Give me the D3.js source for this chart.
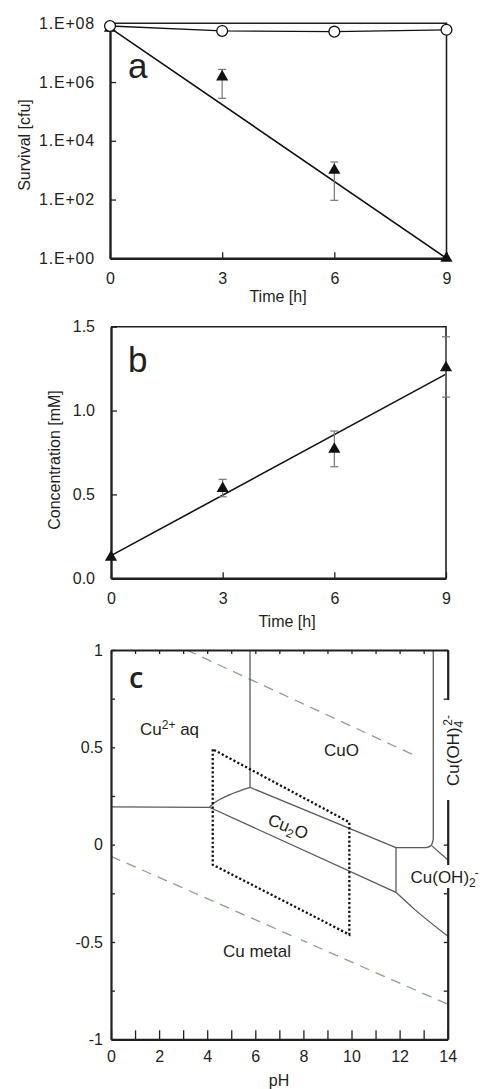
<!DOCTYPE html>
<html>
<head>
<meta charset="utf-8">
<script src="https://cdn.jsdelivr.net/npm/d3@7"></script>
<style>
  body { margin: 0; background: #fff; }
  text { font-family: "Liberation Sans", Arial, sans-serif; font-size: 16px; fill: #231f20; }
</style>
</head>
<body>
<svg id="chart" width="482" height="1089"></svg>
<script>
// ---- panel a: survival ----
const times = [0, 3, 6, 9];
const fitTimes = [0, 9];
const survivalControl = [8.1e7, 5.5e7, 5.2e7, 6.0e7];
const survivalCopper = [6.8e7, 1.5e6, 1.0e3, 1];
const survivalErrHigh = [null, 2.7e6, 1.9e3, null];
const survivalErrLow = [null, 2.8e5, 94, null];
const survivalFit = [7.0e7, 1];
const survivalTicks = [1, 1e2, 1e4, 1e6, 1e8];

// ---- panel b: copper concentration ----
const copperConc = [0.125, 0.536, 0.77, 1.255];
const concErrHigh = [null, 0.59, 0.878, 1.44];
const concErrLow = [null, 0.486, 0.665, 1.08];
const concFit = [0.135, 1.217];
const concTicks = [0, 0.5, 1.0, 1.5];

// ---- panel c: Pourbaix diagram (pH, E) ----
const phTicks = d3.range(0, 15, 1);
const potentialTicks = [-1, -0.75, -0.5, -0.25, 0, 0.25, 0.5, 0.75, 1];
const boundaries = [
  [[0, 0.194], [4.09, 0.192]],
  [[4.09, 0.192], [4.3, 0.215], [4.95, 0.257], [5.78, 0.294]],
  [[5.78, 0.294], [5.78, 1.0]],
  [[5.78, 0.294], [11.85, -0.015]],
  [[11.85, -0.015], [13.1, -0.015], [13.3, -0.005], [13.4, 0.03], [13.4, 1.0]],
  [[13.33, -0.005], [14, -0.077]],
  [[11.85, -0.015], [11.85, -0.245]],
  [[4.09, 0.192], [11.85, -0.245]],
  [[11.85, -0.245], [12.6, -0.33], [14, -0.47]]
];
const waterLines = [
  [[3.15, 1.0], [12.7, 0.454]],
  [[0, -0.06], [14, -0.82]]
];
const studyWindow = [[4.23, 0.49], [4.23, -0.103], [9.91, -0.462], [9.91, 0.115]];

const ink = '#231f20';
const svg = d3.select('#chart');

function styleAxis(g, domainWidth) {
  g.attr('font-size', null).attr('font-family', null);
  g.select('.domain').attr('stroke', ink).attr('stroke-width', domainWidth);
  g.selectAll('.tick line').attr('stroke', ink).attr('stroke-width', 1.3);
}

function drawTriangles(g, xs, ys, x, y) {
  g.selectAll(null)
    .data(xs)
    .enter()
    .append('path')
    .attr('d', d3.symbol(d3.symbolTriangle, 64))
    .attr('transform', (d, i) => 'translate(' + x(d) + ',' + y(ys[i]) + ')')
    .attr('fill', '#111');
}

function drawErrorBars(g, xs, lo, hi, x, y) {
  const idx = xs.map((d, i) => i).filter(i => hi[i] != null);
  const bars = g.selectAll(null).data(idx).enter().append('g')
    .attr('stroke', '#777').attr('stroke-width', 1.2);
  bars.append('line')
    .attr('x1', i => x(xs[i])).attr('x2', i => x(xs[i]))
    .attr('y1', i => y(lo[i])).attr('y2', i => y(hi[i]));
  bars.append('line')
    .attr('x1', i => x(xs[i]) - 4).attr('x2', i => x(xs[i]) + 4)
    .attr('y1', i => y(hi[i])).attr('y2', i => y(hi[i]));
  bars.append('line')
    .attr('x1', i => x(xs[i]) - 4).attr('x2', i => x(xs[i]) + 4)
    .attr('y1', i => y(lo[i])).attr('y2', i => y(lo[i]));
}

function drawFrame(x, y, width) {
  const [x0, x1] = x.range();
  const [y0, y1] = y.range();
  svg.append('path')
    .attr('d', 'M' + x0 + ',' + y1 + 'H' + x1 + 'V' + y0)
    .attr('fill', 'none').attr('stroke', ink).attr('stroke-width', width);
}

// ===== panel a =====
const xA = d3.scaleLinear().domain([0, 9]).range([110, 446.5]);
const yA = d3.scaleLog().domain([1, 1e8]).range([258.3, 23.3]);

drawFrame(xA, yA, 1.6);

svg.append('g')
  .attr('transform', 'translate(' + xA(0) + ',0)')
  .call(d3.axisLeft(yA).tickValues(survivalTicks).tickSize(-6).tickSizeOuter(0).tickPadding(15)
    .tickFormat(d => '1.E+' + String(Math.round(Math.log10(d))).padStart(2, '0')))
  .call(g => styleAxis(g, 2.4))
  .selectAll('text').style('letter-spacing', '0.8px');

svg.append('g')
  .attr('transform', 'translate(0,' + yA(1) + ')')
  .call(d3.axisBottom(xA).tickValues(times).tickSize(-6).tickSizeOuter(0).tickPadding(14))
  .call(g => styleAxis(g, 2.4));

const lineA = d3.line().x((d, i) => xA(times[i])).y(d => yA(d));
svg.append('path')
  .attr('d', d3.line().x((d, i) => xA(fitTimes[i])).y(d => yA(d))(survivalFit))
  .attr('fill', 'none').attr('stroke', '#111').attr('stroke-width', 1.6);
svg.append('path')
  .attr('d', lineA(survivalControl))
  .attr('fill', 'none').attr('stroke', '#111').attr('stroke-width', 1.3);

const gA = svg.append('g');
drawErrorBars(gA, times, survivalErrLow, survivalErrHigh, xA, yA);
drawTriangles(gA, times, survivalCopper, xA, yA);
gA.selectAll(null)
  .data(times)
  .enter()
  .append('circle')
  .attr('cx', d => xA(d))
  .attr('cy', (d, i) => yA(survivalControl[i]))
  .attr('r', 5.4)
  .attr('fill', '#fff').attr('stroke', '#111').attr('stroke-width', 1.3);

svg.append('text').attr('x', 128).attr('y', 78).style('font-size', '35px').text('a');
svg.append('text').attr('x', 278).attr('y', 302).attr('text-anchor', 'middle').text('Time [h]');
svg.append('text')
  .attr('transform', 'translate(30,145) rotate(-90)')
  .attr('text-anchor', 'middle').text('Survival [cfu]');

// ===== panel b =====
const xB = d3.scaleLinear().domain([0, 9]).range([111, 446]);
const yB = d3.scaleLinear().domain([0, 1.5]).range([578.3, 326.7]);

drawFrame(xB, yB, 1.6);

svg.append('g')
  .attr('transform', 'translate(' + xB(0) + ',0)')
  .call(d3.axisLeft(yB).tickValues(concTicks).tickSize(-6).tickSizeOuter(0).tickPadding(16)
    .tickFormat(d3.format('.1f')))
  .call(g => styleAxis(g, 2.4));

svg.append('g')
  .attr('transform', 'translate(0,' + yB(0) + ')')
  .call(d3.axisBottom(xB).tickValues(times).tickSize(-6).tickSizeOuter(0).tickPadding(14))
  .call(g => styleAxis(g, 2.4));

svg.append('path')
  .attr('d', d3.line().x((d, i) => xB(fitTimes[i])).y(d => yB(d))(concFit))
  .attr('fill', 'none').attr('stroke', '#111').attr('stroke-width', 1.6);

const gB = svg.append('g');
drawErrorBars(gB, times, concErrLow, concErrHigh, xB, yB);
drawTriangles(gB, times, copperConc, xB, yB);

svg.append('text').attr('x', 128).attr('y', 371.5).style('font-size', '35px').text('b');
svg.append('text').attr('x', 287).attr('y', 627).attr('text-anchor', 'middle').text('Time [h]');
svg.append('text')
  .attr('transform', 'translate(60,460) rotate(-90)')
  .attr('text-anchor', 'middle').text('Concentration [mM]');

// ===== panel c =====
const xC = d3.scaleLinear().domain([0, 14]).range([111, 447.7]);
const yC = d3.scaleLinear().domain([-1, 1]).range([1039.3, 650]);
const lineC = d3.line().x(d => xC(d[0])).y(d => yC(d[1]));

svg.append('g').selectAll(null)
  .data(waterLines)
  .enter()
  .append('path')
  .attr('d', lineC)
  .attr('fill', 'none').attr('stroke', '#86a486').attr('stroke-width', 1.3)
  .attr('stroke-dasharray', '10,7');

svg.append('g').selectAll(null)
  .data(boundaries)
  .enter()
  .append('path')
  .attr('d', d3.line().x(d => xC(d[0])).y(d => yC(d[1])).curve(d3.curveMonotoneX))
  .attr('fill', 'none').attr('stroke', '#5a5a5a').attr('stroke-width', 1.3);

svg.append('path')
  .attr('d', lineC(studyWindow) + 'Z')
  .attr('fill', 'none').attr('stroke', '#111').attr('stroke-width', 2.3)
  .attr('stroke-dasharray', '2.2,2.2');

// frame and axes
svg.append('g')
  .attr('transform', 'translate(' + xC(0) + ',0)')
  .call(d3.axisLeft(yC).tickValues(potentialTicks).tickSize(-4).tickSizeOuter(0).tickPadding(8)
    .tickFormat(d => (Math.abs(d * 2 - Math.round(d * 2)) < 1e-9) ? String(d) : ''))
  .call(g => styleAxis(g, 2.2));
svg.append('g')
  .attr('transform', 'translate(' + xC(14) + ',0)')
  .call(d3.axisRight(yC).tickValues(potentialTicks).tickSize(-4).tickSizeOuter(0).tickFormat(''))
  .call(g => styleAxis(g, 2.2));
svg.append('g')
  .attr('transform', 'translate(0,' + yC(1) + ')')
  .call(d3.axisTop(xC).tickValues(phTicks).tickSize(-4).tickSizeOuter(0).tickFormat(''))
  .call(g => styleAxis(g, 2.2));
svg.append('g')
  .attr('transform', 'translate(0,' + yC(-1) + ')')
  .call(d3.axisBottom(xC).tickValues(phTicks).tickSize(-9).tickSizeOuter(0).tickPadding(11)
    .tickFormat(d => d % 2 === 0 ? String(d) : ''))
  .call(g => styleAxis(g, 2.2));

// white label backgrounds, as in the original figure
svg.append('rect').attr('x', 438).attr('y', 700).attr('width', 44).attr('height', 100).attr('fill', '#fff');
svg.append('rect').attr('x', 407).attr('y', 865).attr('width', 75).attr('height', 23).attr('fill', '#fff');
svg.append('rect').attr('x', 217).attr('y', 938).attr('width', 84).attr('height', 24).attr('fill', '#fff');

// region labels
function chem(sel, parts) {
  parts.forEach(p => {
    const t = sel.append('tspan').text(p[0]);
    if (p[1] === 'sub') t.attr('dy', 4).style('font-size', '12px');
    if (p[1] === 'sup') t.attr('dy', p[2] || -7).style('font-size', '12px');
    if (p[1] === 'base') t.attr('dy', p[2] || 0);
    if (p[3]) t.attr('dx', p[3]);
  });
  return sel;
}

svg.append('text').attr('x', 129).attr('y', 688)
  .style('font-family', '"Open Sans", "Noto Sans", sans-serif').style('font-size', '29px')
  .style('font-weight', '600').text('c');

chem(svg.append('text').attr('x', 140).attr('y', 735).style('font-size', '17px'),
  [['Cu', 'base'], ['2+', 'sup', -6], [' aq', 'base', 6]]);

svg.append('text').attr('x', 341.5).attr('y', 756).attr('text-anchor', 'middle')
  .style('font-size', '17px').text('CuO');

chem(svg.append('text').attr('transform', 'translate(286,832) rotate(22)')
  .attr('text-anchor', 'middle').style('font-size', '17px'),
  [['Cu', 'base'], ['2', 'sub'], ['O', 'base', -4]]);

svg.append('text').attr('x', 257).attr('y', 957).attr('text-anchor', 'middle')
  .style('font-size', '17px').text('Cu metal');

chem(svg.append('text').attr('x', 410.5).attr('y', 883).style('font-size', '17px'),
  [['Cu(OH)', 'base'], ['2', 'sub'], ['-', 'sup', -10, -1]]);

chem(svg.append('text').attr('transform', 'translate(458.5,786) rotate(-90)').style('font-size', '17px'),
  [['Cu(OH)', 'base'], ['4', 'sub'], ['2-', 'sup', -11, -5]]);

svg.append('text').attr('x', 279).attr('y', 1086).attr('text-anchor', 'middle').text('pH');
</script>
</body>
</html>
